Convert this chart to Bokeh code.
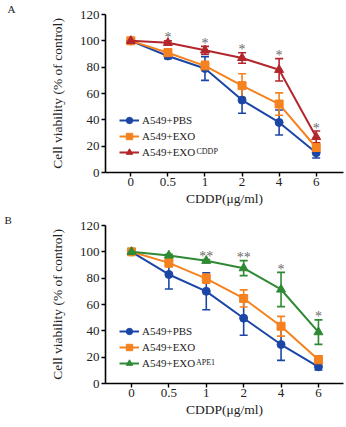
import numpy as np
from bokeh.plotting import figure
from bokeh.models import (ColumnDataSource, Whisker, TeeHead, FixedTicker, Legend,
                          LegendItem, Label, Title)
from bokeh.layouts import column
from bokeh.core.properties import value
from bokeh.embed import file_html
from bokeh.resources import INLINE

# ---------------- data ----------------
doses = ["0", "0.5", "1", "2", "4", "6"]
y_ticks = [0, 20, 40, 60, 80, 100, 120]

# Panel A
pbs_A = [100, 88.5, 79, 55, 38, 15]
pbs_A_sd = [0, 2, 9, 10, 9.5, 4]
exo_A = [100, 91, 81, 66, 52, 19]
exo_A_sd = [0, 3, 3.5, 9, 8.5, 3]
cddp_A = [100, 98.5, 92.8, 87, 78, 27]
cddp_A_sd = [0, 1.5, 3, 4, 8.5, 4.5]
stars_A = ["", "*", "*", "*", "*", "*"]

# Panel B
pbs_B = [100, 82.8, 70, 49.6, 29.6, 12.7]
pbs_B_sd = [0, 11, 14, 13, 12, 2.5]
exo_B = [100, 91.6, 79.7, 64.6, 43.5, 18]
exo_B_sd = [0, 3, 3.5, 6.5, 7.5, 3]
ape_B = [100, 97.2, 93.2, 87.6, 71.4, 39]
ape_B_sd = [0, 1, 1, 5.7, 13, 9.3]
stars_B = ["", "", "**", "**", "*", "*"]

BLUE = "#1c46a6"
ORANGE = "#f5821f"
RED = "#b3262c"
GREEN = "#2f8a35"
FONT = "Liberation Serif"


def make_panel(series, stars, star_series, letter, sup, sup_x, h, borders, xr):
    top, bottom, left, right = borders
    p = figure(width=346, height=h, output_backend="svg", toolbar_location=None,
               x_range=xr, y_range=(0, 120),
               min_border_top=top, min_border_bottom=bottom,
               min_border_left=left, min_border_right=right)
    p.outline_line_color = None
    p.grid.visible = False
    p.background_fill_color = "white"
    x = np.arange(len(doses))

    # panel letter as title shifted into the left margin
    t = Title(text=letter, align="left", offset=4 - left, standoff=0,
              text_font=FONT, text_font_size="11px", text_font_style="normal",
              text_color="#222222")
    p.title = t

    items = []
    for name, vals, sd, color, marker, msize in series:
        src = ColumnDataSource(dict(x=x, y=vals,
                                    upper=np.array(vals) + np.array(sd),
                                    lower=np.array(vals) - np.array(sd)))
        w = Whisker(base="x", upper="upper", lower="lower", source=src,
                    line_color=color, line_width=1.6,
                    upper_head=TeeHead(size=8, line_color=color, line_width=1.6),
                    lower_head=TeeHead(size=8, line_color=color, line_width=1.6))
        p.add_layout(w)
        r1 = p.line("x", "y", source=src, line_color=color, line_width=2)
        r2 = p.scatter("x", "y", source=src, marker=marker, size=msize,
                       fill_color=color, line_color=color)
        items.append(LegendItem(label=name, renderers=[r1, r2]))

    # significance stars
    sv = np.array(star_series[0]) + np.array(star_series[1])
    ssrc = ColumnDataSource(dict(x=x, y=sv, t=stars))
    p.text("x", "y", text="t", source=ssrc, text_font=value(FONT),
           text_font_size="14px", text_color="#6a6a6a", text_align="center",
           text_baseline="middle", y_offset=-3)

    leg = Legend(items=items, location=(14, 12), orientation="vertical",
                 padding=0, margin=0, spacing=0, glyph_width=20, glyph_height=16,
                 label_height=16, label_standoff=3,
                 label_text_font=FONT, label_text_font_size="11px",
                 label_text_color="#222222",
                 border_line_color=None, background_fill_alpha=0)
    p.add_layout(leg, "center")

    # axes
    p.xaxis.ticker = FixedTicker(ticks=list(x))
    p.xaxis.major_label_overrides = {int(i): d for i, d in zip(x, doses)}
    p.yaxis.ticker = FixedTicker(ticks=y_ticks)
    for ax in (p.xaxis[0], p.yaxis[0]):
        ax.axis_line_width = 1.6
        ax.axis_line_color = "black"
        ax.major_tick_line_width = 1.4
        ax.major_tick_out = 4
        ax.major_tick_in = 0
        ax.minor_tick_line_color = None
        ax.major_label_text_font = FONT
        ax.major_label_text_font_size = "13px"
        ax.major_label_text_color = "#222222"
        ax.axis_label_text_font = FONT
        ax.axis_label_text_font_size = "13.5px"
        ax.axis_label_text_font_style = "normal"
        ax.axis_label_text_color = "#222222"
    p.xaxis.axis_label = "CDDP(μg/ml)"
    p.xaxis.major_label_standoff = 1
    p.xaxis.axis_label_standoff = 2
    p.yaxis.axis_label = "Cell viability (% of control)"
    p.yaxis.major_label_standoff = 2
    p.yaxis.axis_label_standoff = 12

    p.add_layout(Label(x=sup_x, y=17, x_units="screen", y_units="screen",
                       text=sup, text_font=FONT, text_font_size="8px",
                       text_color="#222222"))
    return p


pA = make_panel(
    [("A549+PBS", pbs_A, pbs_A_sd, BLUE, "circle", 8),
     ("A549+EXO", exo_A, exo_A_sd, ORANGE, "square", 8),
     ("A549+EXO", cddp_A, cddp_A_sd, RED, "triangle", 9)],
    stars_A, (cddp_A, cddp_A_sd), "A", "CDDP", 91, 210, (12, 38, 102, 0),
    (-0.684, 5.737))

pB = make_panel(
    [("A549+PBS", pbs_B, pbs_B_sd, BLUE, "circle", 8),
     ("A549+EXO", exo_B, exo_B_sd, ORANGE, "square", 8),
     ("A549+EXO", ape_B, ape_B_sd, GREEN, "triangle", 9)],
    stars_B, (ape_B, ape_B_sd), "B", "APE1", 90.5, 217, (15, 44, 105, 3),
    (-0.695, 5.67))

layout = column(pA, pB, spacing=0)
open("out.html", "w").write(file_html(layout, INLINE))
